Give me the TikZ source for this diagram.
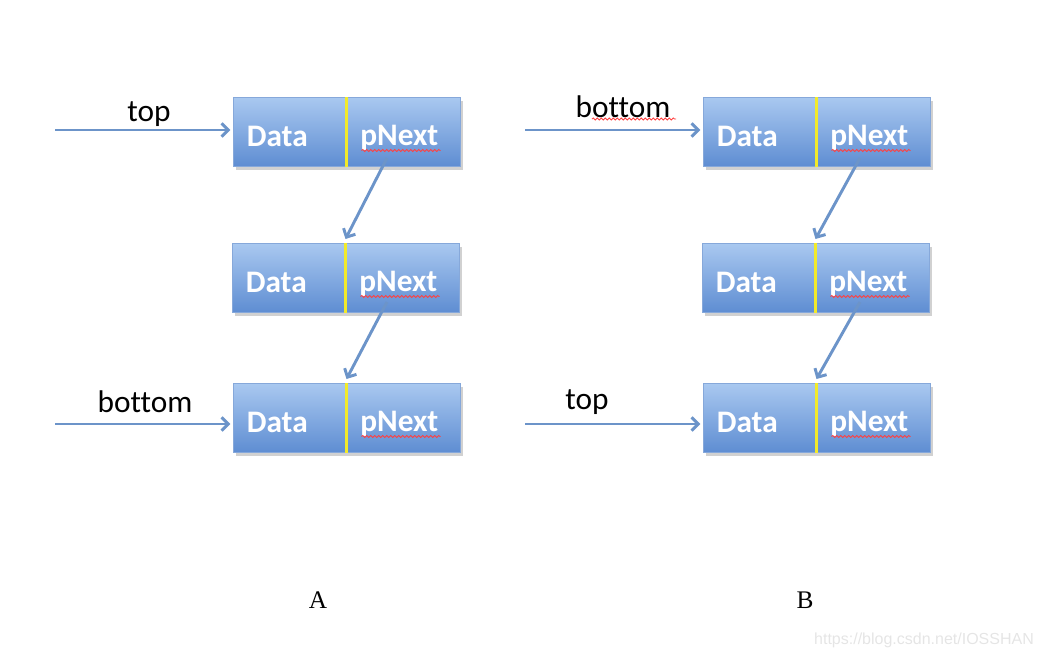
\documentclass[tikz,border=0pt]{standalone}
\usepackage{fontspec}
\setmainfont{Carlito}[Ligatures=CommonOff]
\usetikzlibrary{arrows.meta,decorations.pathmorphing}
\definecolor{boxtop}{HTML}{A9C8F0}
\definecolor{boxbot}{HTML}{5E8DD2}
\definecolor{boxedge}{HTML}{86A8DA}
\definecolor{arr}{HTML}{6C94C9}
\definecolor{divy}{HTML}{F2EA2A}
\begin{document}
\begin{tikzpicture}[x=0.75pt,y=-0.75pt,
  cell/.style={minimum width=113.5*0.75pt,minimum height=69*0.75pt,inner ysep=0pt,
    inner xsep=13*0.75pt,text width=87*0.75pt,align=left,
    top color=boxtop,bottom color=boxbot,draw=boxedge,line width=0.8pt,
    text=white,font=\bfseries\fontsize{23.5}{25}\selectfont,anchor=north west},
  link/.style={draw=arr,line width=2.2pt,-{Straight Barb[length=5pt,width=10pt,line width=2.2pt]}},
  lbl/.style={font=\fontsize{23.5}{26}\selectfont,text=black},
  squig/.style={draw=red!75,line width=0.6pt,decorate,decoration={snake,amplitude=0.8pt,segment length=3pt}}
]
\useasboundingbox (0,0) rectangle (1040,658);
% shadows
\foreach \x/\y in {233/97,232/243,233/383,703/97,702/243,703/383}{
  \fill[black!18] (\x+3,\y+4) rectangle (\x+230,\y+73);
}
\newcommand{\dn}[1]{\rule[-2pt]{0pt}{26pt}#1}
% A column
\node[cell] (a1d) at (233,97) {\dn{Data}};
\node[cell] (a1n) at (346.5,97) {\dn{pNext}};
\node[cell] (a2d) at (232,243) {\dn{Data}};
\node[cell] (a2n) at (345.5,243) {\dn{pNext}};
\node[cell] (a3d) at (233,383) {\dn{Data}};
\node[cell] (a3n) at (346.5,383) {\dn{pNext}};
% B column
\node[cell] (b1d) at (703,97) {\dn{Data}};
\node[cell] (b1n) at (816.5,97) {\dn{pNext}};
\node[cell] (b2d) at (702,243) {\dn{Data}};
\node[cell] (b2n) at (815.5,243) {\dn{pNext}};
\node[cell] (b3d) at (703,383) {\dn{Data}};
\node[cell] (b3n) at (816.5,383) {\dn{pNext}};
% yellow dividers and spell-check marks
\foreach \n in {a1n,a2n,a3n,b1n,b2n,b3n}{
  \draw[divy,line width=2pt] (\n.north west) -- (\n.south west);
  \draw[squig] ([xshift=15*0.75pt,yshift=-53.5*0.75pt]\n.north west) -- ([xshift=94*0.75pt,yshift=-53.5*0.75pt]\n.north west);
}
% free ends
\coordinate (sa1) at (55,130);
\coordinate (sa3) at (55,424);
\coordinate (sb1) at (525,130);
\coordinate (sb3) at (525,424);
\draw[link] (sa1) -- ([xshift=-2pt]a1d.west |- sa1);
\draw[link] (sa3) -- ([xshift=-2pt]a3d.west |- sa3);
\draw[link] (sb1) -- ([xshift=-2pt]b1d.west |- sb1);
\draw[link] (sb3) -- ([xshift=-2pt]b3d.west |- sb3);
% labels
\node[lbl] (ltopA) at (149,114) {top};
\node[lbl] (lbotA) at (145,402) {bottom};
\node[lbl] (lbotB) at (623,107) {bottom};
\draw[squig] (592,119) -- (676,119);
\node[lbl] (ltopB) at (587,402) {top};
% diagonal links
\coordinate (da1) at (387,158);
\coordinate (da2) at (387,302);
\coordinate (db1) at (860,158);
\coordinate (db2) at (860,302);
\draw[link] (da1) -- ([yshift=3pt]a2n.north west);
\draw[link] (da2) -- ([yshift=3pt]a3n.north west);
\draw[link] (db1) -- ([yshift=3pt]b2n.north west);
\draw[link] (db2) -- ([yshift=3pt]b3n.north west);
% captions
\node[font=\fontspec{Liberation Serif}\fontsize{19}{20}\selectfont] (capA) at (318,600) {A};
\node[font=\fontspec{Liberation Serif}\fontsize{19}{20}\selectfont] (capB) at (805,600) {B};
\node[font=\fontspec{Liberation Sans}\fontsize{12}{14}\selectfont,text=black!10] (wm) at (924,640) {https://blog.csdn.net/IOSSHAN};
\end{tikzpicture}
\end{document}
